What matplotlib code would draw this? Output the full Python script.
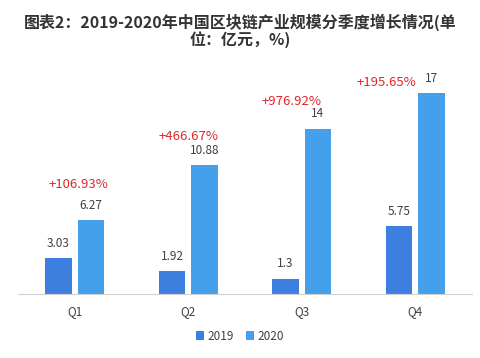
import matplotlib
matplotlib.use('Agg')
import matplotlib.pyplot as plt
import numpy as np

plt.rcParams['font.family'] = ['Noto Sans CJK SC', 'DejaVu Sans']

# datos del gráfico
cuartos = ['Q1', 'Q2', 'Q3', 'Q4']
valores_2019 = [3.03, 1.92, 1.3, 5.75]
valores_2020 = [6.27, 10.88, 14, 17]
etiquetas_2020 = ['6.27', '10.88', '14', '17']
crecimiento = ['+106.93%', '+466.67%', '+976.92%', '+195.65%']
# posición de los textos de crecimiento (desplazamiento en x, altura en y)
crec_dx = [0.03, 0.0, -0.09, -0.25]
crec_y = [9.3, 13.3, 16.3, 17.9]

color_2019 = '#3c7fdf'
color_2020 = '#45a0ec'

fig = plt.figure(figsize=(4.8, 3.58), dpi=100)
ax = fig.add_axes([18 / 480, 1 - 294 / 358, 454 / 480, 236.4 / 358])

x = np.arange(len(cuartos))
ancho = 0.23
sep = 0.028
b1 = ax.bar(x - ancho / 2 - sep, valores_2019, ancho, color=color_2019, label='2019')
b2 = ax.bar(x + ancho / 2 + sep, valores_2020, ancho, color=color_2020, label='2020')

for i in range(len(cuartos)):
    ax.annotate(f'{valores_2019[i]:g}', (x[i] - ancho / 2 - sep, valores_2019[i]),
                xytext=(0, 6), textcoords='offset points', ha='center', va='bottom',
                fontsize=8.5, color='#404040')
    ax.annotate(etiquetas_2020[i], (x[i] + ancho / 2 + sep, valores_2020[i]),
                xytext=(0, 6), textcoords='offset points', ha='center', va='bottom',
                fontsize=8.5, color='#404040')
    ax.text(x[i] + crec_dx[i], crec_y[i], crecimiento[i], ha='center', va='center',
            fontsize=9.5, color='#e0262b')

ax.set_xlim(-0.5, 3.5)
ax.set_ylim(0, 20)
ax.set_yticks([])
ax.set_xticks(x)
ax.set_xticklabels(cuartos, fontsize=8.5, color='#404040')
ax.tick_params(axis='x', length=0, pad=8)
for lado in ['top', 'right', 'left']:
    ax.spines[lado].set_visible(False)
ax.spines['bottom'].set_color('#d0d0d0')

fig.legend(handles=[b1, b2], loc='center', bbox_to_anchor=(0.5, 1 - 336 / 358),
           ncol=2, frameon=False, fontsize=8.5, handlelength=0.7, handleheight=0.7,
           handletextpad=0.3, columnspacing=1.0, labelcolor='#404040')

fig.text(0.5, 1 - 22 / 358, '图表2：2019-2020年中国区块链产业规模分季度增长情况(单',
         ha='center', va='center', fontsize=11.5, fontweight='bold', color='#333333')
fig.text(0.5, 1 - 40 / 358, '位：亿元，%)',
         ha='center', va='center', fontsize=11.5, fontweight='bold', color='#333333')

fig.savefig('out.png', dpi=100)
